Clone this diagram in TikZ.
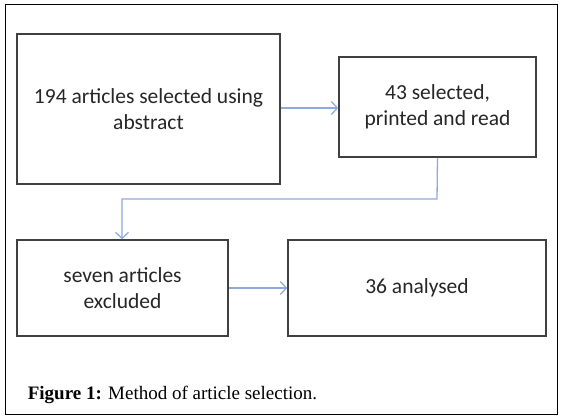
\documentclass[tikz,border=0pt]{standalone}
\usepackage{fontspec}
\usetikzlibrary{arrows.meta}
\setmainfont{Carlito}
\newfontfamily\capfont{Liberation Serif}
\definecolor{linkblue}{RGB}{143,170,220}
\begin{document}
\begin{tikzpicture}[x=1pt, y=-1pt,
	every node/.style={draw=black!75, line width=1.6pt, align=center, inner sep=0pt, text=black!85,
		font=\fontsize{21.5}{26}\selectfont},
	link/.style={draw=linkblue, line width=1.3pt, -{Straight Barb[length=6pt, width=13pt, line width=1.3pt]}}]
		\useasboundingbox[fill=white] (0,0) rectangle (561,419);
		\draw[line width=0.9pt] (5,4) rectangle (557,414);

		\node[minimum width=263pt, minimum height=150pt] (1) at (148.5,109) {194 articles selected using\\abstract};
		\node[minimum width=197pt, minimum height=100pt] (2) at (437.5,107) {43 selected,\\printed and read};
		\node[minimum width=211pt, minimum height=96pt] (3) at (122.5,288) {seven articles\\excluded};
		\node[minimum width=258pt, minimum height=96pt] (4) at (417,288) {36 analysed};

		\draw[link] (1.east |- 0,108) -- (2.west |- 0,108);
		\draw[link] (2.south) -- (437,199) -- (122,199) -- (3.north -| 122,0);
		\draw[link] (3.east) -- (4.west);

		\node[draw=none, anchor=base west, font=\capfont\fontsize{19}{22}\selectfont, text=black] (cap) at (27,399)
			{\textbf{Figure 1:} Method of article selection.};
	\end{tikzpicture}
\end{document}
